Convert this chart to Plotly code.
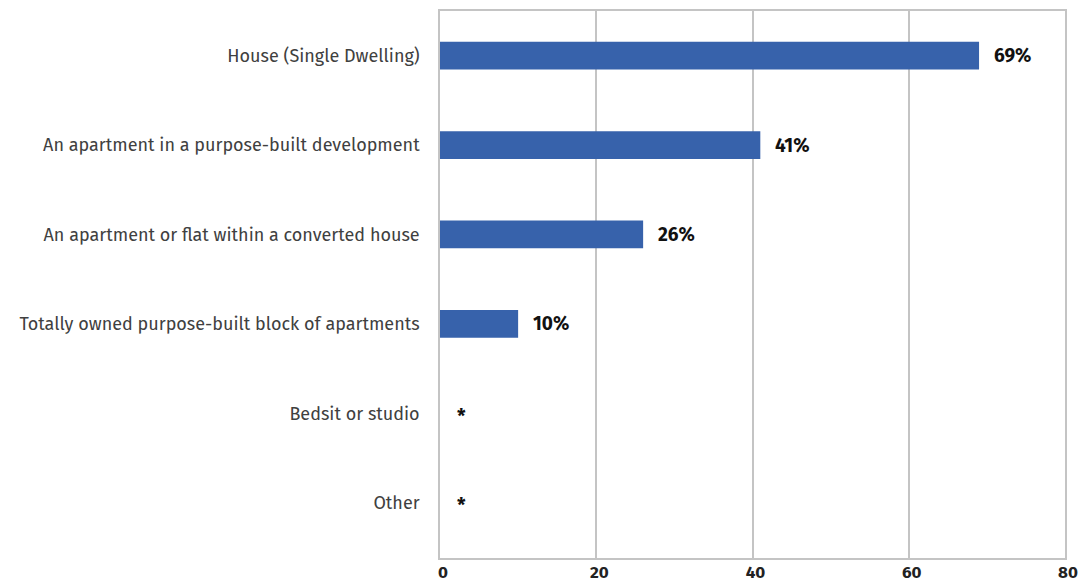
import plotly.graph_objects as go

categories = [
    "House (Single Dwelling)",
    "An apartment in a purpose-built development",
    "An apartment or flat within a converted house",
    "Totally owned purpose-built block of apartments",
    "Bedsit or studio",
    "Other",
]
values = [69, 41, 26, 10, 0, 0]
value_labels = ["69%", "41%", "26%", "10%", "*", "*"]
x_ticks = [0, 20, 40, 60, 80]

FONT = "Fira Sans, Noto Sans, sans-serif"
GRID = "#c4c4c4"

fig = go.Figure(
    go.Bar(
        x=values,
        y=categories,
        orientation="h",
        marker=dict(color="#3762ab", line=dict(width=0)),
        width=0.31,
        hoverinfo="skip",
    )
)

for cat, val, lab in zip(categories, values, value_labels):
    fig.add_annotation(
        x=val,
        y=cat,
        text=f"<b>{lab}</b>",
        showarrow=False,
        xanchor="left",
        xshift=13 if lab != "*" else 15,
        yshift=0 if lab != "*" else -3,
        font=dict(family=FONT, size=19, color="#111111"),
    )

fig.update_layout(
    width=1089,
    height=584,
    margin=dict(l=440, r=24, t=11, b=26),
    paper_bgcolor="white",
    plot_bgcolor="white",
    showlegend=False,
    font=dict(family=FONT, size=18, color="#404040"),
)

fig.update_xaxes(
    range=[0, 80],
    tickvals=x_ticks,
    ticktext=[f"<b>{t}</b>" for t in x_ticks],
    tickfont=dict(family=FONT, size=17, color="#222222"),
    showgrid=True,
    gridcolor=GRID,
    gridwidth=1.5,
    showline=True,
    linecolor=GRID,
    linewidth=1.5,
    mirror=True,
    zeroline=False,
    ticks="",
    ticklabelstandoff=-2,
    ticklabelshift=3,
    automargin=False,
)

fig.update_yaxes(
    categoryorder="array",
    categoryarray=categories,
    range=[5.62, -0.5],
    showgrid=False,
    showline=True,
    linecolor=GRID,
    linewidth=1.5,
    mirror=True,
    ticks="",
    ticklabelstandoff=15,
    automargin=False,
    tickfont=dict(family=FONT, size=18, color="#404040"),
)

fig.write_html("out.html")
